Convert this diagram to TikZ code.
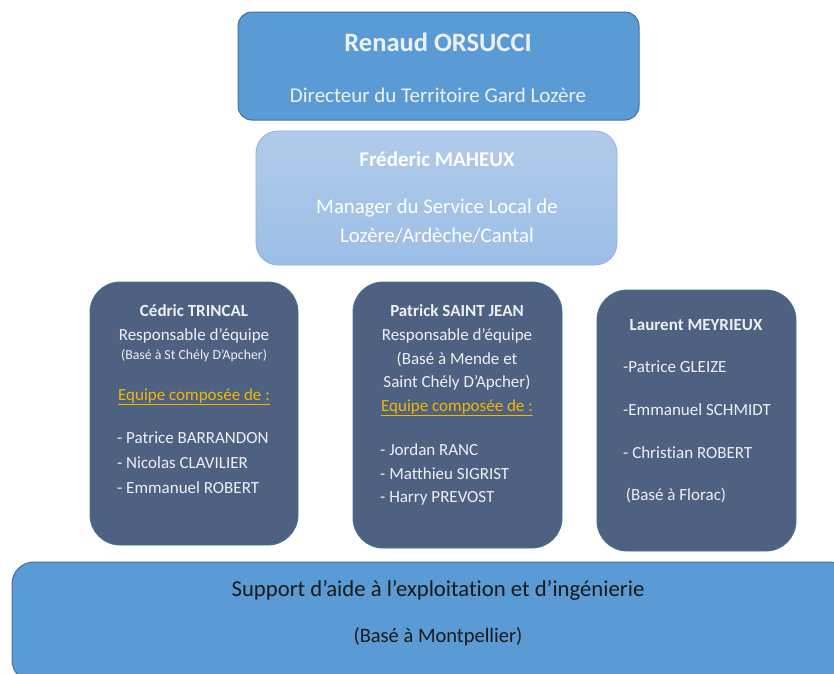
\documentclass[tikz,border=0pt]{standalone}
\usepackage{fontspec}
\setmainfont{Carlito}[Ligatures=NoCommon]
\usepackage{tikz}
\definecolor{dirblue}{HTML}{5B9BD5}
\definecolor{dirline}{HTML}{41719C}
\definecolor{mantop}{HTML}{B2CBEA}
\definecolor{manbot}{HTML}{9CBEE6}
\definecolor{manline}{HTML}{8DB3E2}
\definecolor{teamfill}{HTML}{4F6180}
\definecolor{teamtext}{HTML}{EDF0F5}
\definecolor{gold}{HTML}{F2B800}
\tikzstyle{dirbox}=[rectangle,rounded corners=14pt,draw=dirline,fill=dirblue,
                    line width=1pt]
\tikzstyle{manbox}=[rectangle,rounded corners=22pt,draw=manline,
                    top color=mantop,bottom color=manbot,line width=0.8pt]
\tikzstyle{teambox}=[rectangle,rounded corners=30pt,draw=dirline,
                     fill=teamfill,line width=0.8pt]
\tikzstyle{supbox}=[rectangle,rounded corners=22pt,draw=dirline,fill=dirblue,
                    line width=1pt]
\tikzstyle{wtext}=[text=teamtext,inner sep=0pt]
\tikzstyle{btext}=[text=black!90,inner sep=0pt]
\newcommand{\teamfont}{\fontsize{17}{20}\selectfont}

\begin{document}
\begin{tikzpicture}[x=1pt,y=-1pt]
    \useasboundingbox (0,0) rectangle (834,673);
    \clip (0,0) rectangle (834,673);
    % director
    \node (dir) at (438.5,66) [dirbox,minimum width=401pt,minimum height=108pt]{};
    \node (dirname) at (438,42) [wtext,font=\bfseries\fontsize{26.5}{30}\selectfont]{Renaud ORSUCCI};
    \node (dirrole) at (438,95) [wtext,font=\fontsize{21}{25}\selectfont]{Directeur du Territoire Gard Lozère};
    % manager
    \node (man) at (436.5,198) [manbox,minimum width=361pt,minimum height=134pt]{};
    \node (manname) at (437,159) [wtext,text=white,font=\bfseries\fontsize{21}{24}\selectfont]{Fréderic MAHEUX};
    \node (manrole1) at (437,208) [wtext,text=white,font=\fontsize{20.8}{24}\selectfont]{Manager du Service Local de};
    \node (manrole2) at (437,236) [wtext,text=white,font=\fontsize{20.8}{24}\selectfont]{Lozère/Ardèche/Cantal};
    % team 1
    \node (t1) at (194,413.5) [teambox,minimum width=208pt,minimum height=263pt]{};
    \node (t1name) at (194,311) [wtext,font=\bfseries\teamfont]{Cédric TRINCAL};
    \node (t1role) at (194,336) [wtext,font=\teamfont]{Responsable d’équipe};
    \node (t1base) at (194,356) [wtext,font=\fontsize{13.8}{16}\selectfont]{(Basé à St Chély D’Apcher)};
    \node (t1eq) at (194,397) [wtext,text=gold,font=\teamfont]{\underline{Equipe composée de :}};
    \node (t1a) at (117,438) [wtext,anchor=west,font=\teamfont]{- Patrice BARRANDON};
    \node (t1b) at (117,463) [wtext,anchor=west,font=\teamfont]{- Nicolas CLAVILIER};
    \node (t1c) at (117,488) [wtext,anchor=west,font=\teamfont]{- Emmanuel ROBERT};
    % team 2
    \node (t2) at (457.5,415) [teambox,minimum width=209pt,minimum height=266pt]{};
    \node (t2name) at (457,311) [wtext,font=\bfseries\teamfont]{Patrick SAINT JEAN};
    \node (t2role) at (457,336) [wtext,font=\teamfont]{Responsable d’équipe};
    \node (t2base1) at (457,359) [wtext,font=\teamfont]{(Basé à Mende et};
    \node (t2base2) at (457,383) [wtext,font=\teamfont]{Saint Chély D’Apcher)};
    \node (t2eq) at (457,408) [wtext,text=gold,font=\teamfont]{\underline{Equipe composée de :}};
    \node (t2a) at (380,450) [wtext,anchor=west,font=\teamfont]{- Jordan RANC};
    \node (t2b) at (380,474) [wtext,anchor=west,font=\teamfont]{- Matthieu SIGRIST};
    \node (t2c) at (380,498) [wtext,anchor=west,font=\teamfont]{- Harry PREVOST};
    % team 3
    \node (t3) at (696.5,420.5) [teambox,minimum width=199pt,minimum height=261pt]{};
    \node (t3name) at (696,325) [wtext,font=\bfseries\teamfont]{Laurent MEYRIEUX};
    \node (t3a) at (623,367) [wtext,anchor=west,font=\teamfont]{-Patrice GLEIZE};
    \node (t3b) at (623,410) [wtext,anchor=west,font=\teamfont]{-Emmanuel SCHMIDT};
    \node (t3c) at (623,453) [wtext,anchor=west,font=\teamfont]{- Christian ROBERT};
    \node (t3base) at (676,495) [wtext,font=\teamfont]{(Basé à Florac)};
    % support
    \node (sup) at (432,622) [supbox,minimum width=840pt,minimum height=120pt]{};
    \node (supname) at (438,590) [btext,font=\fontsize{22.7}{26}\selectfont]{Support d’aide à l’exploitation et d’ingénierie};
    \node (supbase) at (438,637) [btext,font=\fontsize{20.5}{24}\selectfont]{(Basé à Montpellier)};
\end{tikzpicture}
\end{document}
